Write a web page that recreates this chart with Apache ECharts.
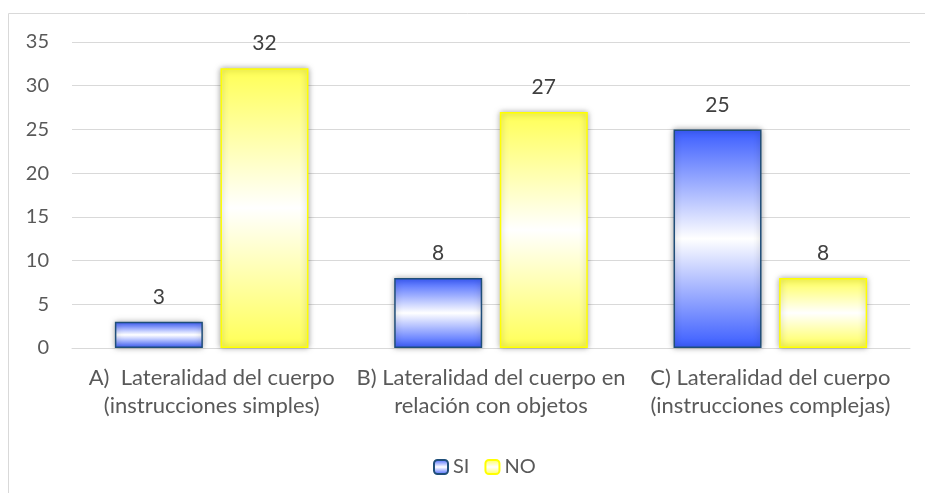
<!DOCTYPE html>
<html><head><meta charset="utf-8">
<script src="https://cdn.jsdelivr.net/npm/echarts@6/dist/echarts.min.js"></script>
<style>html,body{margin:0;padding:0;background:#fff}#c{width:925px;height:493px}</style>
</head><body><div id="c"></div>
<script>
const categories = ['A)  Lateralidad del cuerpo\n(instrucciones simples)', 'B) Lateralidad del cuerpo en\nrelación con objetos', 'C) Lateralidad del cuerpo\n(instrucciones complejas)'];
const siValues = [3, 8, 25];
const noValues = [32, 27, 8];
const seriesNames = ['SI', 'NO'];
const yTicks = {min: 0, max: 35, interval: 5};

const font = 'Lato, "Open Sans", sans-serif';
const grad = (edge) => new echarts.graphic.LinearGradient(0, 0, 0, 1, [
  {offset: 0, color: edge}, {offset: 0.5, color: '#ffffff'}, {offset: 1, color: edge}
]);
const chart = echarts.init(document.getElementById('c'));
chart.setOption({
  animation: false,
  graphic: [{type: 'rect', shape: {x: 8.5, y: 13.5, width: 1000, height: 1000}, style: {fill: 'none', stroke: '#d9d9d9', lineWidth: 1}, silent: true}],
  grid: {left: 72, right: 15, top: 42, bottom: 145},
  legend: {
    top: 452, left: 428, itemWidth: 14, itemHeight: 14, itemGap: 15,
    textStyle: {color: '#595959', fontSize: 20, fontFamily: font},
    data: seriesNames
  },
  xAxis: {
    type: 'category', data: categories,
    axisLine: {lineStyle: {color: '#d9d9d9', width: 1}},
    axisTick: {show: false},
    axisLabel: {color: '#595959', fontSize: 22, fontFamily: font, lineHeight: 28, margin: 16, interval: 0}
  },
  yAxis: {
    type: 'value', min: yTicks.min, max: yTicks.max, interval: yTicks.interval,
    axisLine: {show: false}, axisTick: {show: false},
    axisLabel: {color: '#595959', fontSize: 20, fontFamily: font, margin: 23},
    splitLine: {lineStyle: {color: '#d9d9d9', width: 1}}
  },
  series: [
    {
      name: seriesNames[0], type: 'bar', data: siValues, barWidth: '31.5%', barGap: '20%',
      itemStyle: {color: grad('#3a5cff'), borderColor: '#1f4e79', borderWidth: 1.5,
        shadowColor: 'rgba(0,0,0,0.35)', shadowBlur: 6, shadowOffsetX: 0, shadowOffsetY: 0},
      label: {show: true, position: 'top', distance: 14, color: '#404040', fontSize: 21, fontFamily: font}
    },
    {
      name: seriesNames[1], type: 'bar', data: noValues, barWidth: '31.5%',
      itemStyle: {color: grad('#ffff55'), borderColor: '#ffff00', borderWidth: 1.5,
        shadowColor: 'rgba(0,0,0,0.35)', shadowBlur: 6, shadowOffsetX: 0, shadowOffsetY: 0},
      label: {show: true, position: 'top', distance: 14, color: '#404040', fontSize: 21, fontFamily: font}
    }
  ]
});
</script></body></html>
